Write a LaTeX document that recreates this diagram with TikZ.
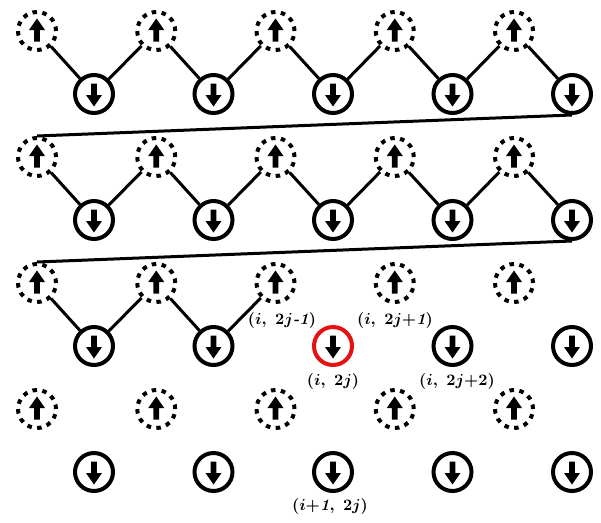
\documentclass[tikz,border=0pt]{standalone}
\usepackage{graphicx}
\usepackage{amsmath}
\definecolor{spinred}{RGB}{228,18,18}
\begin{document}
\begin{tikzpicture}[x=1pt,y=-1pt,
 spin/.style={circle, minimum size=38pt, inner sep=0pt, line width=4pt},
 upspin/.style={spin, draw, dash pattern=on 4.5pt off 5.45pt},
 dnspin/.style={spin},
 link/.style={line width=3pt},
 lbl/.style={font=\normalsize\boldmath, inner sep=0pt},
 uparr/.pic={\fill (0,-12.5) -- (8,-1) -- (2.8,-1) -- (2.8,10.5) -- (-2.8,10.5) -- (-2.8,-1) -- (-8,-1) -- cycle;},
 dnarr/.pic={\fill (0,12.5) -- (8,1) -- (2.8,1) -- (2.8,-10.5) -- (-2.8,-10.5) -- (-2.8,1) -- (-8,1) -- cycle;}
]
\useasboundingbox (0,0) rectangle (601,522);
\foreach \r in {0,1,2,3} {
 \foreach \k in {0,...,4} {
  \pgfmathsetmacro\xu{37+119.25*\k}
  \pgfmathsetmacro\xd{94+119.5*\k}
  \pgfmathsetmacro\yu{31+126*\r}
  \pgfmathsetmacro\yd{94+126*\r}
  \def\dcol{black}
  \ifnum\r=2 \ifnum\k=2 \def\dcol{spinred}\fi\fi
  \node[upspin] (u-\r-\k) at (\xu,\yu) {};
  \pic at (u-\r-\k) {uparr};
  \node[dnspin, draw=\dcol] (d-\r-\k) at (\xd,\yd) {};
  \pic at (d-\r-\k) {dnarr};
 }
}
\foreach \r in {0,1} {
 \draw[link] (u-\r-0) -- (d-\r-0) -- (u-\r-1) -- (d-\r-1) -- (u-\r-2) -- (d-\r-2)
   -- (u-\r-3) -- (d-\r-3) -- (u-\r-4) -- (d-\r-4);
}
\draw[link] (d-0-4.south) -- (u-1-0.north);
\draw[link] (d-1-4.south) -- (u-2-0.north);
\draw[link] (u-2-0) -- (d-2-0) -- (u-2-1) -- (d-2-1) -- (u-2-2);
\node[lbl] (l1) at (282,320) {\scalebox{1.6}{$(i,\ 2j$\textbf{\textit{-1}}$)$}};
\node[lbl] (l2) at (395,320) {\scalebox{1.6}{$(i,\ 2j{+}\textbf{\textit{1}})$}};
\node[lbl] (l3) at (333,381) {\scalebox{1.6}{$(i,\ 2j)$}};
\node[lbl] (l4) at (457,381) {\scalebox{1.6}{$(i,\ 2j{+}2)$}};
\node[lbl] (l5) at (330,506) {\scalebox{1.6}{$(i{+}\textbf{\textit{1}},\ 2j)$}};
\end{tikzpicture}
\end{document}
